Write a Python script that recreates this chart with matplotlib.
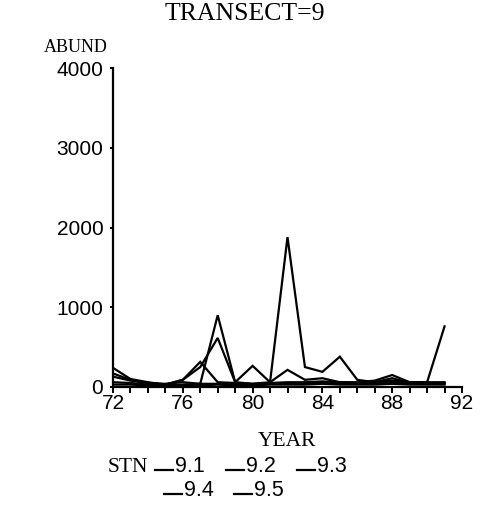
import matplotlib
matplotlib.use("Agg")
import matplotlib.pyplot as plt
from matplotlib.lines import Line2D
from matplotlib.ticker import MultipleLocator

years = [72, 73, 74, 75, 76, 77, 78, 79, 80, 81, 82, 83, 84, 85, 86, 87, 88, 89, 90, 91]
stn_9_1 = [240, 100, 60, 30, 90, 250, 615, 60, 40, 60, 215, 90, 110, 60, 60, 80, 150, 60, 60, 60]
stn_9_2 = [170, 90, 50, 40, 60, 40, 900, 60, 265, 60, 1880, 250, 190, 380, 90, 60, 80, 60, 60, 760]
stn_9_3 = [130, 80, 50, 30, 90, 315, 60, 50, 40, 50, 60, 60, 70, 60, 50, 60, 110, 50, 50, 50]
stn_9_4 = [60, 50, 30, 20, 30, 40, 40, 30, 30, 40, 40, 50, 50, 40, 40, 40, 60, 40, 40, 40]
stn_9_5 = [30, 30, 20, 20, 20, 20, 30, 20, 20, 30, 30, 30, 40, 30, 30, 30, 40, 30, 30, 30]
labels = ["9.1", "9.2", "9.3", "9.4", "9.5"]
series = [stn_9_1, stn_9_2, stn_9_3, stn_9_4, stn_9_5]
x_ticks = [72, 76, 80, 84, 88, 92]
y_ticks = [0, 1000, 2000, 3000, 4000]

W, H = 489, 514
fig = plt.figure(figsize=(W / 100, H / 100), dpi=100)
fig.patch.set_facecolor("white")

def fx(px):
    return px / W

def fy(py):
    return 1 - py / H

left, right, top, bottom = 113, 462, 68, 387
ax = fig.add_axes([fx(left), fy(bottom), fx(right - left), (bottom - top) / H])

for vals in series:
    ax.plot(years, vals, color="black", lw=1.6, solid_joinstyle="miter")

ax.set_xlim(72, 92)
ax.set_ylim(0, 4000)
ax.set_xticks(x_ticks)
ax.set_yticks(y_ticks)
ax.xaxis.set_minor_locator(MultipleLocator(1))
for s in ["top", "right"]:
    ax.spines[s].set_visible(False)
for s in ["left", "bottom"]:
    ax.spines[s].set_linewidth(1.6)
    ax.spines[s].set_color("black")

ax.tick_params(axis="x", which="both", direction="out", length=4, width=1.4, pad=1)
ax.tick_params(axis="y", which="major", direction="out", length=2, width=1.4, pad=5)
for lab in ax.get_xticklabels() + ax.get_yticklabels():
    lab.set_fontfamily("Liberation Sans")
    lab.set_fontsize(15)

serif = "Liberation Serif"
fig.text(fx(245), fy(14), "TRANSECT=9", family=serif, size=18.5, ha="center", va="center")
fig.text(fx(108), fy(48), "ABUND", family=serif, size=13, ha="right", va="center")
fig.text(fx(287), fy(441), "YEAR", family=serif, size=15.5, ha="center", va="center")

# legend
fig.text(fx(148), fy(467), "STN", family=serif, size=15.5, ha="right", va="center")
entries = [(155, 467), (226, 467), (297, 467), (164, 491), (234, 491)]
for (x0, y0), lab in zip(entries, labels):
    fig.add_artist(Line2D([fx(x0), fx(x0 + 18)], [fy(y0 + 3), fy(y0 + 3)],
                          color="black", lw=1.6, transform=fig.transFigure))
    fig.text(fx(x0 + 20), fy(y0), lab, family="Liberation Sans", size=15.5,
             ha="left", va="center")

fig.savefig("out.png", dpi=100, facecolor="white")
